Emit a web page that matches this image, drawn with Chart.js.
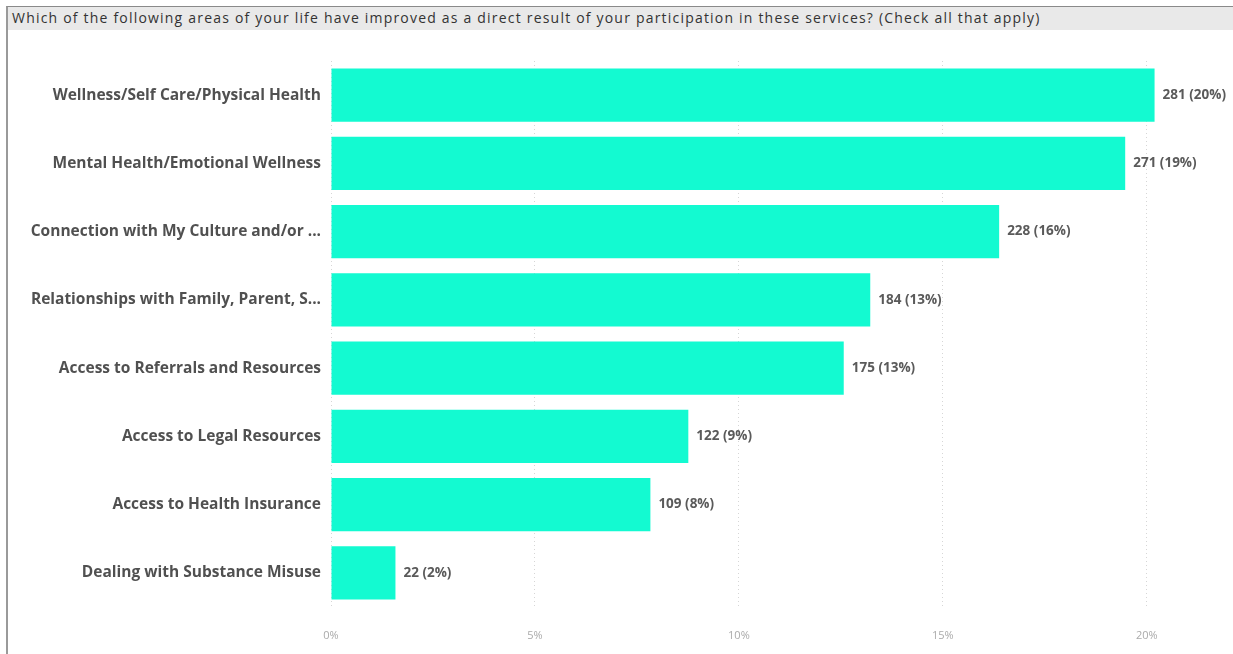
<!DOCTYPE html>
<html>
<head>
<meta charset="utf-8">
<script src="https://cdn.jsdelivr.net/npm/chart.js@4.4.1/dist/chart.umd.min.js"></script>
<style>
  html, body { margin: 0; padding: 0; background: #fff; }
  body { width: 1233px; height: 654px; position: relative; overflow: hidden; }
  .frame {
    position: absolute; left: 6px; top: 6px; right: 0; bottom: -2px;
    border-left: 2px solid #9a9a9a; border-top: 1px solid #8a8a8a;
  }
  .title {
    position: absolute; left: 0; top: 0; right: 0; height: 23px;
    background: #e9e9e9; color: #333;
    font: 14px "Open Sans", sans-serif; line-height: 22px; letter-spacing: 1.2px;
    padding-left: 4px; white-space: nowrap;
  }
  #chartBox { position: absolute; left: 8px; top: 32px; width: 1225px; height: 622px; }
</style>
</head>
<body>
<div class="frame">
  <div class="title">Which of the following areas of your life have improved as a direct result of your participation in these services? (Check all that apply)</div>
</div>
<div id="chartBox"><canvas id="areasChart"></canvas></div>
<script>
// Survey answers, one bar per area
const categories = [
    'Wellness/Self Care/Physical Health',
    'Mental Health/Emotional Wellness',
    'Connection with My Culture and/or ...',
    'Relationships with Family, Parent, S...',
    'Access to Referrals and Resources',
    'Access to Legal Resources',
    'Access to Health Insurance',
    'Dealing with Substance Misuse'
];
const counts = [281, 271, 228, 184, 175, 122, 109, 22];
// share of all responses, in percent
const shares = [20.19, 19.47, 16.38, 13.22, 12.57, 8.76, 7.83, 1.58];
const xTicks = [0, 5, 10, 15, 20];

// value labels to the right of each bar: "count (pct%)"
const barLabels = {
    id: 'barLabels',
    afterDatasetsDraw(chart) {
        const ctx = chart.ctx;
        const meta = chart.getDatasetMeta(0);
        ctx.save();
        ctx.font = 'bold 13.5px "Open Sans", sans-serif';
        ctx.fillStyle = '#5a5a5a';
        ctx.textAlign = 'left';
        ctx.textBaseline = 'middle';
        meta.data.forEach((bar, i) => {
            const text = counts[i] + ' (' + Math.round(shares[i]) + '%)';
            ctx.fillText(text, bar.x + 8, bar.y);
        });
        ctx.restore();
    }
};

const ctx = document.getElementById('areasChart');
new Chart(ctx, {
    type: 'bar',
    data: {
        labels: categories,
        datasets: [{
            data: shares,
            backgroundColor: '#13fad1',
            borderWidth: 0,
            barPercentage: 0.78,
            categoryPercentage: 1
        }]
    },
    options: {
        indexAxis: 'y',
        responsive: true,
        maintainAspectRatio: false,
        animation: false,
        layout: { padding: { top: 29, right: 25, bottom: 0, left: 0 } },
        plugins: {
            legend: { display: false },
            tooltip: { enabled: false }
        },
        scales: {
            x: {
                min: 0,
                max: 21.5,
                afterBuildTicks(scale) {
                    scale.ticks = xTicks.map(v => ({ value: v }));
                },
                afterFit(scale) { scale.height = 47; },
                grid: {
                    color: '#d6d6d6',
                    lineWidth: 1,
                    drawTicks: false
                },
                border: { display: false, dash: [1, 3] },
                ticks: {
                    padding: 22,
                    color: '#aaa',
                    font: { family: 'Open Sans', size: 11 },
                    callback: v => v + '%'
                }
            },
            y: {
                afterFit(scale) { scale.width = 323; },
                grid: { display: false, drawTicks: false },
                border: { display: false },
                ticks: {
                    padding: 10,
                    color: '#505050',
                    font: { family: 'Open Sans', size: 15.5, weight: 'bold' }
                }
            }
        }
    },
    plugins: [barLabels]
});
</script>
</body>
</html>
